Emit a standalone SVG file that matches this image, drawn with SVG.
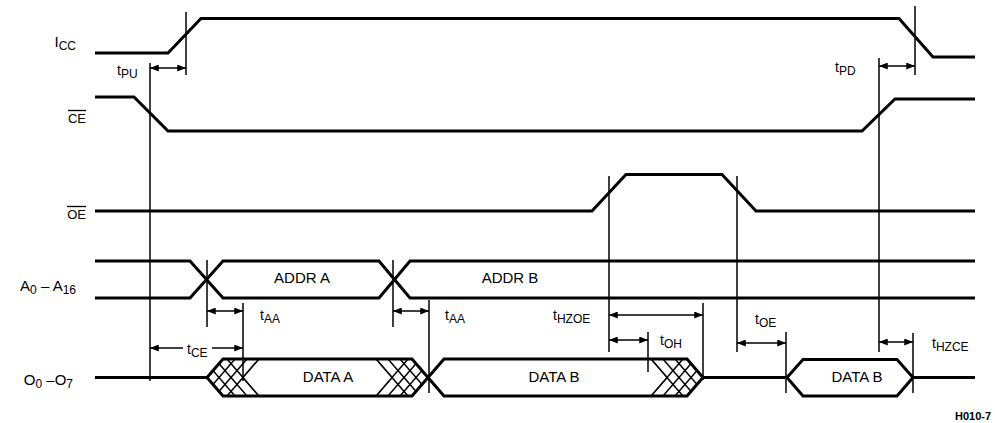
<svg xmlns="http://www.w3.org/2000/svg" width="995" height="423" viewBox="0 0 995 423">
<style>
.sig{fill:none;stroke:#000;stroke-width:3;stroke-linejoin:miter}
.vl{fill:none;stroke:#000;stroke-width:1.5}
.ar{fill:none;stroke:#000;stroke-width:1.5;marker-start:url(#ah);marker-end:url(#ah)}
.ar1{fill:none;stroke:#000;stroke-width:1.5;marker-end:url(#ah)}
.ht{fill:none;stroke:#000;stroke-width:1.5}
text{font-family:"Liberation Sans",Arial,Helvetica,sans-serif;fill:#000}
.lbl{font-size:15px}
.sl{font-size:13px}
.tm{font-size:14px}
.sub{font-size:12px}
.in{font-size:15px;text-anchor:middle}
.ov{stroke:#000;stroke-width:1.3}
</style>
<defs>
<marker id="ah" viewBox="0 0 10 8" refX="10" refY="4" markerWidth="10" markerHeight="7" orient="auto-start-reverse" markerUnits="userSpaceOnUse">
<path d="M0,0 L10,4 L0,8 z" fill="#000"/>
</marker>
<clipPath id="hA1"><polygon points="207,377.5 223,359 259,359 243,377.5 259,396 223,396"/></clipPath>
<clipPath id="hA2"><polygon points="376,359 412,359 428,377.5 412,396 376,396 392,377.5"/></clipPath>
<clipPath id="hB1"><polygon points="651,359 687,359 703,377.5 687,396 651,396 667,377.5"/></clipPath>
</defs>
<rect width="995" height="423" fill="#fff"/>

<g id="label-icc"><text class="lbl" x="76" y="47" text-anchor="end">I<tspan class="sub" font-size="13" dy="3">CC</tspan></text></g>
<g id="label-ce"><text class="sl" x="86" y="122.5" text-anchor="end">CE</text><line class="ov" x1="68" y1="110.5" x2="86" y2="110.5"/></g>
<g id="label-oe"><text class="sl" x="86" y="218.5" text-anchor="end">OE</text><line class="ov" x1="67" y1="206.5" x2="86" y2="206.5"/></g>
<g id="label-addr"><text class="lbl" x="76" y="291" text-anchor="end">A<tspan class="sub" dy="3">0</tspan><tspan dy="-3"> – A</tspan><tspan class="sub" dy="3">16</tspan></text></g>
<g id="label-data"><text class="lbl" x="73" y="385" text-anchor="end">O<tspan class="sub" dy="3">0</tspan><tspan dy="-3"> –O</tspan><tspan class="sub" dy="3">7</tspan></text></g>

<g id="icc"><polyline class="sig" points="95,53 168,53 201,18.5 899,18.5 933,57 975,57"/></g>
<g id="ce"><polyline class="sig" points="95,97 134,97 168,131 862,131 895,99 975,99"/></g>
<g id="oe"><polyline class="sig" points="95,211 592,211 626,174.5 722,174.5 756,211 975,211"/></g>
<g id="addr">
<polyline class="sig" points="95,261 190,261 223,298 379,298 410,261 975,261"/>
<polyline class="sig" points="95,298 190,298 223,261 379,261 410,298 975,298"/>
<text class="in" x="302" y="283">ADDR A</text>
<text class="in" x="510" y="283">ADDR B</text>
</g>
<g id="data">
<polyline class="sig" points="95,377.5 207,377.5"/>
<polygon class="sig" points="207,377.5 223,359 412,359 428,377.5 412,396 223,396"/>
<polygon class="sig" points="428,377.5 444,359 687,359 703,377.5 687,396 444,396"/>
<polyline class="sig" points="703,377.5 787,377.5"/>
<polygon class="sig" points="787,377.5 803,359.5 897,359.5 913,377.5 897,396 803,396"/>
<polyline class="sig" points="913,377.5 975,377.5"/>
<g clip-path="url(#hA1)">
<path class="ht" d="M187,400.6 L227,354.4 M187,354.4 L227,400.6 M199,400.6 L239,354.4 M199,354.4 L239,400.6 M211,400.6 L251,354.4 M211,354.4 L251,400.6 M223,400.6 L263,354.4 M223,354.4 L263,400.6"/>
</g>
<path class="ht" d="M259,359 L243,377.5 L259,396"/>
<g clip-path="url(#hA2)">
<path class="ht" d="M372,400.6 L412,354.4 M372,354.4 L412,400.6 M384,400.6 L424,354.4 M384,354.4 L424,400.6 M396,400.6 L436,354.4 M396,354.4 L436,400.6 M408,400.6 L448,354.4 M408,354.4 L448,400.6"/>
</g>
<path class="ht" d="M376,359 L392,377.5 L376,396"/>
<g clip-path="url(#hB1)">
<path class="ht" d="M647,400.6 L687,354.4 M647,354.4 L687,400.6 M659,400.6 L699,354.4 M659,354.4 L699,400.6 M671,400.6 L711,354.4 M671,354.4 L711,400.6 M683,400.6 L723,354.4 M683,354.4 L723,400.6"/>
</g>
<path class="ht" d="M651,359 L667,377.5 L651,396"/>
<text class="in" x="328" y="382">DATA A</text>
<text class="in" x="554" y="382">DATA B</text>
<text class="in" x="857" y="382">DATA B</text>
</g>

<g id="connectors">
<line class="vl" x1="150" y1="63" x2="150" y2="381"/>
<line class="vl" x1="186" y1="12" x2="186" y2="75"/>
<line class="vl" x1="207" y1="260" x2="207" y2="327"/>
<line class="vl" x1="243" y1="303" x2="243" y2="381"/>
<line class="vl" x1="393" y1="260" x2="393" y2="327"/>
<line class="vl" x1="429" y1="300" x2="429" y2="393"/>
<line class="vl" x1="609" y1="176" x2="609" y2="352"/>
<line class="vl" x1="648" y1="332" x2="648" y2="372"/>
<line class="vl" x1="703" y1="303" x2="703" y2="380"/>
<line class="vl" x1="737" y1="176" x2="737" y2="352"/>
<line class="vl" x1="786" y1="332" x2="786" y2="393"/>
<line class="vl" x1="879" y1="58" x2="879" y2="352"/>
<line class="vl" x1="913" y1="333" x2="913" y2="393"/>
<line class="vl" x1="915" y1="6" x2="915" y2="75"/>
<path class="ar" d="M150,68 L186,68"/>
<path class="ar" d="M879,66 L915,66"/>
<path class="ar" d="M207,311 L243,311"/>
<path class="ar" d="M393,311 L429,311"/>
<path class="ar1" d="M183,348 L150,348"/>
<path class="ar1" d="M212,348 L243,348"/>
<path class="ar" d="M609,315 L703,315"/>
<path class="ar" d="M609,340 L648,340"/>
<path class="ar" d="M737,343 L786,343"/>
<path class="ar" d="M879,342 L913,342"/>
</g>

<g id="timing-labels">
<text class="tm" x="117" y="75">t<tspan class="sub" dy="3">PU</tspan></text>
<text class="tm" x="835" y="72">t<tspan class="sub" dy="3">PD</tspan></text>
<text class="tm" x="260" y="320">t<tspan class="sub" dy="3">AA</tspan></text>
<text class="tm" x="445" y="320">t<tspan class="sub" dy="3">AA</tspan></text>
<text class="tm" x="553" y="320">t<tspan class="sub" dy="3">HZOE</tspan></text>
<text class="tm" x="187" y="354">t<tspan class="sub" dy="3">CE</tspan></text>
<text class="tm" x="660" y="345">t<tspan class="sub" dy="3">OH</tspan></text>
<text class="tm" x="755" y="324">t<tspan class="sub" dy="3">OE</tspan></text>
<text class="tm" x="932" y="348">t<tspan class="sub" dy="3">HZCE</tspan></text>
<text x="955" y="420" font-size="11" font-weight="bold">H010-7</text>
</g>
</svg>
